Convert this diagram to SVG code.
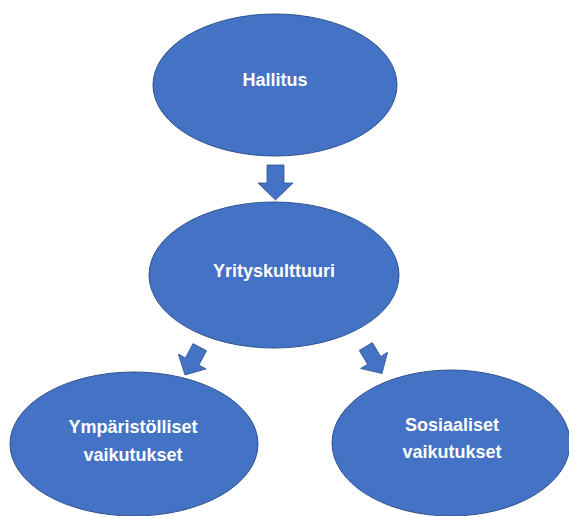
<svg xmlns="http://www.w3.org/2000/svg" width="569" height="516" viewBox="0 0 569 516">
<style>
.node{fill:#4472C4;stroke:#2F528F;stroke-width:1}
.arrow{fill:#4472C4;stroke:#2F528F;stroke-width:0.8}
.lbl{font-family:"Liberation Sans",Arial,sans-serif;font-weight:bold;font-size:18px;fill:#FFFFFF;text-anchor:middle}
</style>
<defs>
<path id="blockArrow" d="M-8.5,-35 H8.5 V-17 H17.5 L0,0 L-17.5,-17 H-8.5 Z"/>
</defs>
<rect width="569" height="516" fill="#FFFFFF"/>
<g id="connectors">
<use href="#blockArrow" class="arrow" transform="translate(275.5,200)"/>
<use href="#blockArrow" class="arrow" transform="translate(185,375) rotate(28) scale(0.9)"/>
<use href="#blockArrow" class="arrow" transform="translate(382,373.5) rotate(-31) scale(0.9)"/>
</g>
<g id="hallitus">
<ellipse class="node" cx="275" cy="85" rx="122" ry="71"/>
<text class="lbl" x="275" y="86">Hallitus</text>
</g>
<g id="yrityskulttuuri">
<ellipse class="node" cx="274" cy="275" rx="125" ry="73"/>
<text class="lbl" x="274" y="277">Yrityskulttuuri</text>
</g>
<g id="ymparistolliset">
<ellipse class="node" cx="134" cy="444" rx="124" ry="72"/>
<text class="lbl" x="133" y="433">Ympäristölliset</text>
<text class="lbl" x="133" y="461">vaikutukset</text>
</g>
<g id="sosiaaliset">
<ellipse class="node" cx="451" cy="443" rx="119" ry="73"/>
<text class="lbl" x="452" y="431">Sosiaaliset</text>
<text class="lbl" x="452" y="458">vaikutukset</text>
</g>
</svg>
